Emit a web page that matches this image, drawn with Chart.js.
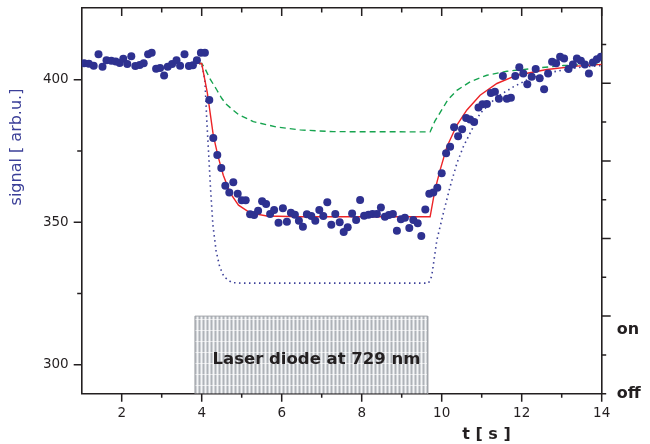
<!DOCTYPE html>
<html>
<head>
<meta charset="utf-8">
<script src="https://cdn.jsdelivr.net/npm/chart.js@4.4.0/dist/chart.umd.min.js"></script>
<style>
  html, body { margin: 0; padding: 0; background: #fff; }
</style>
</head>
<body>
<canvas id="chart" width="650" height="444"></canvas>
<script>
// measured signal (points)
const dataT = [1.06, 1.18, 1.30, 1.42, 1.52, 1.62, 1.74, 1.85, 1.95, 2.04, 2.14, 2.24, 2.34, 2.45, 2.55,
  2.66, 2.75, 2.86, 2.96, 3.06, 3.15, 3.26, 3.37, 3.46, 3.57, 3.68, 3.78, 3.88, 3.98, 4.08,
  4.19, 4.29, 4.39, 4.49, 4.59, 4.69, 4.79, 4.90,
  5.00, 5.10, 5.21, 5.31, 5.41, 5.51, 5.61, 5.71, 5.81, 5.92,
  6.03, 6.13, 6.23, 6.33, 6.43, 6.53, 6.63, 6.74, 6.84, 6.94,
  7.04, 7.14, 7.24, 7.34, 7.45, 7.55, 7.65, 7.76, 7.86, 7.96,
  8.06, 8.17, 8.27, 8.38, 8.48, 8.58, 8.68, 8.78, 8.88, 8.98,
  9.08, 9.19, 9.29, 9.40, 9.49, 9.59, 9.69, 9.79, 9.89,
  10.00, 10.11, 10.21, 10.31, 10.41, 10.51, 10.61, 10.71, 10.81, 10.92,
  11.02, 11.13, 11.23, 11.33, 11.43, 11.53, 11.63, 11.73, 11.84, 11.94,
  12.04, 12.14, 12.25, 12.35, 12.45, 12.56, 12.66, 12.76, 12.86, 12.96,
  13.06, 13.17, 13.28, 13.38, 13.48, 13.58, 13.68, 13.78, 13.88, 13.98];
const dataV = [405.8, 405.6, 404.9, 409.0, 404.6, 406.9, 406.7, 406.4, 405.9, 407.4, 405.5, 408.3, 404.8, 405.2, 405.8,
  409.0, 409.5, 403.9, 404.1, 401.5, 404.6, 405.5, 406.9, 404.9, 409.0, 404.8, 405.1, 406.9, 409.5, 409.5,
  392.9, 379.6, 373.6, 369.0, 362.8, 360.4, 364.0, 360.0,
  357.7, 357.7, 352.8, 352.5, 354.0, 357.4, 356.4, 352.9, 354.3, 349.8,
  354.9, 350.2, 353.3, 352.6, 350.5, 348.4, 352.8, 352.2, 350.5, 354.3,
  352.2, 357.0, 349.1, 352.9, 350.0, 346.6, 348.2, 353.1, 350.8, 357.8,
  352.3, 352.6, 352.9, 352.9, 355.2, 351.9, 352.5, 352.9, 347.0, 351.0,
  351.6, 348.0, 350.8, 349.6, 345.2, 354.5, 360.0, 360.4, 362.1,
  367.2, 374.2, 376.5, 383.3, 380.2, 382.6, 386.6, 386.1, 385.2, 390.3,
  391.4, 391.5, 395.4, 395.8, 393.3, 401.3, 393.3, 393.7, 401.3, 404.4,
  402.2, 398.4, 401.1, 403.8, 400.5, 396.7, 402.2, 406.3, 405.8, 408.1,
  407.5, 403.8, 405.4, 407.5, 406.7, 405.4, 402.2, 406.1, 407.2, 408.1];

// fit (red, solid)
const redT = [3.93, 4.00, 4.14, 4.29, 4.41, 4.54, 4.71, 4.92, 5.21, 5.63, 6.46, 9.71,
  9.83, 9.96, 10.13, 10.38, 10.63, 10.96, 11.38, 11.88, 12.63, 13.38, 14.00];
const redV = [405.7, 405.7, 395.5, 380.5, 373.0, 366.5, 360.3, 356.0, 353.3, 352.2, 351.9, 351.9,
  361.3, 368.3, 376.5, 384.1, 389.4, 394.6, 398.7, 401.6, 403.6, 404.8, 405.4];

// green, dashed
const greenT = [3.93, 4.00, 4.08, 4.20, 4.375, 4.50, 4.63, 4.79, 4.92, 5.29, 5.88, 6.46, 7.29, 9.71,
  9.83, 10.00, 10.15, 10.38, 10.71, 11.13, 11.63, 12.29, 13.04, 14.00];
const greenV = [405.7, 405.7, 404.0, 400.5, 396.5, 393.5, 391.2, 389.3, 387.8, 385.3, 383.4, 382.4, 381.8, 381.7,
  385.5, 389.4, 392.9, 396.3, 399.3, 401.6, 403.0, 404.0, 405.0, 405.5];

// blue, dotted
const blueT = [3.93, 4.00, 4.08, 4.13, 4.17, 4.22, 4.28, 4.36, 4.45, 4.56, 4.75, 5.00, 9.67,
  9.75, 9.88, 10.04, 10.21, 10.38, 10.54, 10.75, 10.96, 11.38, 11.79, 12.21, 12.79, 13.46, 14.00];
const blueV = [405.7, 405.7, 400.0, 385.0, 375.0, 362.0, 349.0, 340.0, 334.3, 330.8, 328.8, 328.6, 328.6,
  331.0, 343.8, 353.1, 362.5, 370.7, 376.5, 382.4, 388.2, 394.0, 397.5, 400.5, 402.8, 404.4, 405.0];

// laser state on the right axis (off = 0, on = 1)
const laserT = [3.83, 3.83, 9.65, 9.65];
const laserV = [0, 1, 1, 0];

const xMajor = [2, 4, 6, 8, 10, 12, 14];
const xMinor = [3, 5, 7, 9, 11, 13];
const yMajor = [300, 350, 400];
const yMinor = [325, 375];
const rMajor = [1, 2, 3, 4];
const rMinor = [0, 0.5, 1.5, 2.5, 3.5, 4.5];

const INK = '#231f20';
const FONT = "'DejaVu Sans', sans-serif";

function pairs(t, v) {
  return t.map((x, i) => ({ x: x, y: v[i] }));
}

function hatch() {
  var c = document.createElement('canvas');
  c.width = 4; c.height = 11;
  var g = c.getContext('2d');
  g.fillStyle = '#d0d3d7'; g.fillRect(0, 0, 4, 11);
  g.fillStyle = '#f4f5f6'; g.fillRect(1, 0, 1, 11);
  g.fillStyle = '#aeb2b7'; g.fillRect(3, 0, 1, 11);
  g.fillStyle = 'rgba(255,255,255,0.6)'; g.fillRect(0, 0, 4, 1);
  return g.createPattern(c, 'repeat');
}

function fixSize(prop, size) {
  return function (s) {
    s[prop] = size;
    s.paddingTop = 0; s.paddingBottom = 0; s.paddingLeft = 0; s.paddingRight = 0;
  };
}

// tick marks, titles and annotations
const decorations = {
  id: 'decorations',
  afterDraw(chart) {
    var ctx = chart.ctx;
    var a = chart.chartArea;
    var sx = chart.scales.x, sy = chart.scales.y, sr = chart.scales.y2;
    ctx.save();
    ctx.strokeStyle = INK;
    ctx.lineWidth = 1.5;
    ctx.beginPath();
    xMajor.forEach(function (v) {
      var p = sx.getPixelForValue(v);
      ctx.moveTo(p, a.bottom); ctx.lineTo(p, a.bottom + 8);
      ctx.moveTo(p, a.top); ctx.lineTo(p, a.top + 8);
    });
    xMinor.forEach(function (v) {
      var p = sx.getPixelForValue(v);
      ctx.moveTo(p, a.bottom); ctx.lineTo(p, a.bottom + 4);
      ctx.moveTo(p, a.top); ctx.lineTo(p, a.top + 4.5);
    });
    yMajor.forEach(function (v) {
      var p = sy.getPixelForValue(v);
      ctx.moveTo(a.left, p); ctx.lineTo(a.left - 8, p);
    });
    yMinor.forEach(function (v) {
      var p = sy.getPixelForValue(v);
      ctx.moveTo(a.left, p); ctx.lineTo(a.left - 4.5, p);
    });
    rMajor.forEach(function (v) {
      var p = sr.getPixelForValue(v);
      ctx.moveTo(a.right, p); ctx.lineTo(a.right + 9, p);
    });
    rMinor.forEach(function (v) {
      var p = sr.getPixelForValue(v);
      ctx.moveTo(a.right, p); ctx.lineTo(a.right + 4.5, p);
    });
    ctx.stroke();

    // right axis labels
    ctx.fillStyle = INK;
    ctx.font = "bold 16px " + FONT;
    ctx.textAlign = 'left';
    ctx.textBaseline = 'middle';
    ctx.fillText('on', a.right + 15, sr.getPixelForValue(0.82));
    ctx.fillText('off', a.right + 15, sr.getPixelForValue(0));

    // x title
    ctx.textAlign = 'center';
    ctx.fillText('t [ s ]', sx.getPixelForValue(11.12), 435);

    // laser box text
    ctx.font = "bold 16.5px " + FONT;
    ctx.fillText('Laser diode at 729 nm', sx.getPixelForValue(6.87), sr.getPixelForValue(0.44));

    // y title
    ctx.fillStyle = '#3b3f98';
    ctx.font = "16px " + FONT;
    ctx.translate(17, 147);
    ctx.rotate(-Math.PI / 2);
    ctx.fillText('signal [ arb.u.]', 0, 0);
    ctx.restore();
  }
};

new Chart(document.getElementById('chart'), {
  type: 'scatter',
  data: {
    datasets: [
      {
        data: pairs(dataT, dataV),
        backgroundColor: '#2e3190',
        borderColor: '#2e3190',
        pointRadius: 4,
        borderWidth: 0,
        clip: 0
      },
      {
        data: pairs(redT, redV),
        showLine: true,
        borderColor: '#ec2427',
        borderWidth: 1.4,
        pointRadius: 0,
        tension: 0,
        clip: 0
      },
      {
        data: pairs(greenT, greenV),
        showLine: true,
        borderColor: '#16a34f',
        borderWidth: 1.4,
        borderDash: [6, 4],
        pointRadius: 0,
        tension: 0,
        clip: 0
      },
      {
        data: pairs(blueT, blueV),
        showLine: true,
        borderColor: '#3b3f98',
        borderWidth: 1.6,
        borderDash: [1.5, 3.5],
        pointRadius: 0,
        tension: 0,
        clip: 0
      },
      {
        data: pairs(laserT, laserV),
        yAxisID: 'y2',
        showLine: true,
        borderColor: '#a3a7ac',
        borderWidth: 1,
        backgroundColor: hatch(),
        fill: 'origin',
        pointRadius: 0,
        tension: 0,
        clip: 0
      }
    ]
  },
  options: {
    responsive: false,
    animation: false,
    layout: { padding: 0 },
    plugins: {
      legend: { display: false },
      tooltip: { enabled: false }
    },
    scales: {
      x: {
        type: 'linear',
        position: 'bottom',
        min: 1,
        max: 14,
        afterBuildTicks: function (s) { s.ticks = xMajor.map(function (v) { return { value: v }; }); },
        afterFit: fixSize('height', 50.3),
        grid: { display: false, drawTicks: false },
        border: { display: true, color: INK, width: 1.6 },
        ticks: { color: INK, font: { family: FONT, size: 13.5 }, padding: 11.5, maxRotation: 0, autoSkip: false }
      },
      x2: {
        type: 'linear',
        position: 'top',
        min: 1,
        max: 14,
        afterFit: fixSize('height', 8),
        grid: { display: false, drawTicks: false },
        border: { display: true, color: INK, width: 1.6 },
        ticks: { display: false }
      },
      y: {
        type: 'linear',
        position: 'left',
        min: 289.8,
        max: 425.2,
        afterBuildTicks: function (s) { s.ticks = yMajor.map(function (v) { return { value: v }; }); },
        afterFit: fixSize('width', 81.7),
        grid: { display: false, drawTicks: false },
        border: { display: true, color: INK, width: 1.6 },
        ticks: { color: INK, font: { family: FONT, size: 13.5 }, padding: 13 }
      },
      y2: {
        type: 'linear',
        position: 'right',
        min: 0,
        max: 4.97,
        afterFit: fixSize('width', 48.3),
        grid: { display: false, drawTicks: false },
        border: { display: true, color: INK, width: 1.6 },
        ticks: { display: false }
      }
    }
  },
  plugins: [decorations]
});
</script>
</body>
</html>
